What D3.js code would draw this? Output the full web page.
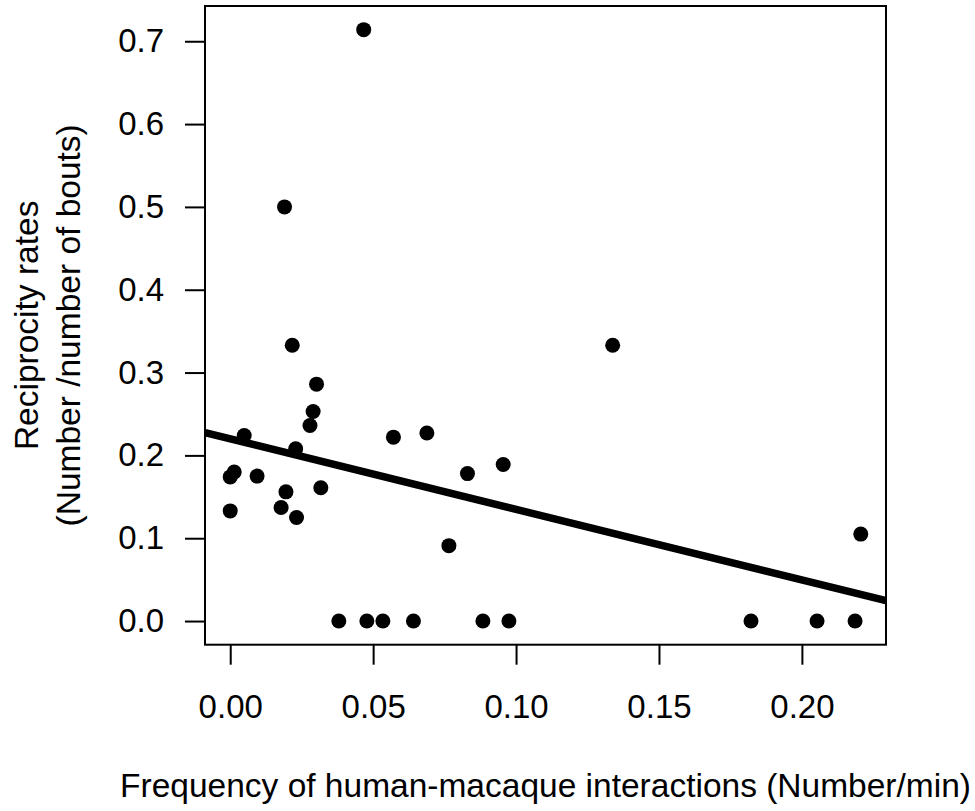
<!DOCTYPE html>
<html>
<head>
<meta charset="utf-8">
<script src="https://cdn.jsdelivr.net/npm/d3@7"></script>
<style>
  body { margin: 0; background: #fff; }
  svg { display: block; font-family: "Liberation Sans", Arial, sans-serif; }
</style>
</head>
<body>
<svg class="chart"></svg>
<script>
// frequency of human-macaque interactions (Number/min)
const freqValues = [0.0467, 0.0190, 0.0217, 0.0302, 0.0290, 0.0279, 0.0049, 0.0229,
  0.0014, 0.0000, 0.0094, 0.0195, 0.0317, 0.0000, 0.0178, 0.0232,
  0.0571, 0.0688, 0.0830, 0.0765, 0.0380, 0.0478, 0.0534, 0.0641,
  0.1338, 0.0955, 0.0884, 0.0975, 0.2206, 0.1822, 0.2053, 0.2186];
// reciprocity rates (Number / number of bouts)
const rateValues = [0.714, 0.500, 0.333, 0.286, 0.253, 0.236, 0.224, 0.208,
  0.180, 0.174, 0.175, 0.156, 0.161, 0.133, 0.137, 0.125,
  0.222, 0.227, 0.178, 0.091, 0, 0, 0, 0,
  0.333, 0.189, 0, 0, 0.105, 0, 0, 0];
const xTicks = [0, 0.05, 0.10, 0.15, 0.20];
const yTicks = [0, 0.1, 0.2, 0.3, 0.4, 0.5, 0.6, 0.7];
// fitted line
const fitIntercept = 0.220;
const fitSlope = -0.852;

const xLabel = 'Frequency of human-macaque interactions (Number/min)';
const yLabelLines = ['Reciprocity rates', '(Number /number of bouts)'];

const width = 975, height = 811;
const box = { left: 205, right: 886, top: 6, bottom: 644.7 };
const tickFontSize = 33;
const labelFontSize = 33.5;

// R style 4% extension of the data range
const pad = (lo, hi) => [lo - (hi - lo) * 0.04, hi + (hi - lo) * 0.04];
const xDomain = pad(d3.min(freqValues), d3.max(freqValues));
const yDomain = pad(d3.min(rateValues), d3.max(rateValues));

const points = freqValues.map((f, i) => ({ x: f, y: rateValues[i] }));

const svg = d3.select('.chart')
  .attr('width', width)
  .attr('height', height);

const xScale = d3.scaleLinear().domain(xDomain).range([box.left, box.right]);
const yScale = d3.scaleLinear().domain(yDomain).range([box.bottom, box.top]);

const xAxis = d3.axisBottom(xScale).tickValues(xTicks)
  .tickFormat(d3.format('.2f')).tickSize(20).tickPadding(30);
const yAxis = d3.axisLeft(yScale).tickValues(yTicks)
  .tickFormat(d3.format('.1f')).tickSize(20).tickPadding(21);

const gx = svg.append('g')
  .attr('transform', 'translate(0,' + box.bottom + ')')
  .call(xAxis);
const gy = svg.append('g')
  .attr('transform', 'translate(' + box.left + ',0)')
  .call(yAxis);

[gx, gy].forEach((g) => {
  g.select('.domain').remove();
  g.selectAll('line').attr('stroke', '#000').attr('stroke-width', 2);
  g.selectAll('text')
    .attr('fill', '#000')
    .style('font-size', tickFontSize + 'px')
    .style('font-family', '"Liberation Sans", Arial, sans-serif');
});

// clip for the regression line
svg.append('clipPath').attr('id', 'plot-clip')
  .append('rect')
  .attr('x', box.left).attr('y', box.top)
  .attr('width', box.right - box.left).attr('height', box.bottom - box.top);

const fitLine = d3.line()
  .x((d) => xScale(d))
  .y((d) => yScale(fitIntercept + fitSlope * d));

svg.append('path')
  .datum(xDomain)
  .attr('d', fitLine)
  .attr('fill', 'none')
  .attr('stroke', '#000')
  .attr('stroke-width', 7.5)
  .attr('clip-path', 'url(#plot-clip)');

svg.selectAll('circle')
  .data(points)
  .enter()
  .append('circle')
  .attr('cx', (d) => xScale(d.x))
  .attr('cy', (d) => yScale(d.y))
  .attr('r', 7.5)
  .attr('fill', '#000');

svg.append('rect')
  .attr('x', box.left).attr('y', box.top)
  .attr('width', box.right - box.left).attr('height', box.bottom - box.top)
  .attr('fill', 'none')
  .attr('stroke', '#000')
  .attr('stroke-width', 2);

svg.append('text')
  .attr('x', (box.left + box.right) / 2)
  .attr('y', 797.3)
  .attr('text-anchor', 'middle')
  .style('font-size', labelFontSize + 'px')
  .text(xLabel);

const yMid = (box.top + box.bottom) / 2;
svg.selectAll('.ylab')
  .data(yLabelLines)
  .enter()
  .append('text')
  .attr('class', 'ylab')
  .attr('transform', (d, i) => 'translate(' + (37.5 + i * 42.5) + ',' + yMid + ') rotate(-90)')
  .attr('text-anchor', 'middle')
  .style('font-size', labelFontSize + 'px')
  .text((d) => d);
</script>
</body>
</html>
